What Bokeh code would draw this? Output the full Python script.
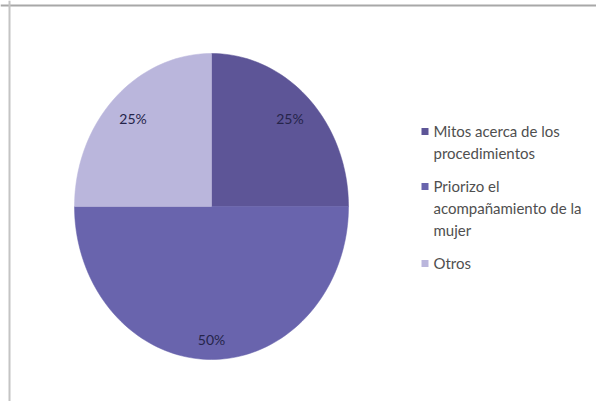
import math
from bokeh.plotting import figure
from bokeh.models import Range1d, Span
from bokeh.core.properties import value
from bokeh.embed import file_html
from bokeh.resources import INLINE

# ---- data ----
categories = ["Mitos acerca de los procedimientos",
              "Priorizo el acompañamiento de la mujer",
              "Otros"]
values = [25, 50, 25]
pct_labels = ["25%", "50%", "25%"]
legend_lines = [["Mitos acerca de los", "procedimientos"],
                ["Priorizo el", "acompañamiento de la", "mujer"],
                ["Otros"]]

# ---- styles / layout ----
colors = ["#5d5597", "#6964ad", "#bab6dc"]
label_radius = [0.81, 0.87, 0.81]
W, H = 596, 401
OX, OY = 0, 0          # page offset of the figure
cx, cy = 211, 206      # pie centre (page coordinates)
rx, ry = 137, 153      # pie radii (scan is slightly stretched)
leg_x, leg_text_x = 421, 433
leg_y0, line_h, entry_gap = 130, 22, 11

p = figure(width=W, height=H, output_backend="svg", toolbar_location=None,
           x_range=Range1d(OX, OX + W), y_range=Range1d(OY + H, OY),
           min_border=0, background_fill_color="#ffffff",
           border_fill_color="#ffffff")
p.axis.visible = False
p.grid.visible = False
p.outline_line_color = None

total = float(sum(values))
start = 0.0
xs_all, ys_all, lx, ly = [], [], [], []
for i, v in enumerate(values):
    frac = v / total
    a0, a1 = start * 2 * math.pi, (start + frac) * 2 * math.pi
    n = max(int(frac * 200), 8)
    xs, ys = [cx], [cy]
    for k in range(n + 1):
        t = a0 + (a1 - a0) * k / n
        xs.append(cx + rx * math.sin(t))
        ys.append(cy - ry * math.cos(t))
    xs_all.append(xs)
    ys_all.append(ys)
    tm = (a0 + a1) / 2
    lx.append(cx + label_radius[i] * rx * math.sin(tm))
    ly.append(cy - label_radius[i] * ry * math.cos(tm))
    start += frac

p.patches(xs_all, ys_all, fill_color=colors, line_color=colors, line_width=0.5)
p.text(lx, ly, text=pct_labels, text_font=value("Lato"), text_font_size="14px",
       text_color="#25244a", text_align="center", text_baseline="middle")

# legend
y = leg_y0
sq_x, sq_y, tx, ty, tt = [], [], [], [], []
for i, lines in enumerate(legend_lines):
    sq_x.append(leg_x + 3.5)
    sq_y.append(y + 1)
    for j, line in enumerate(lines):
        tx.append(leg_text_x)
        ty.append(y + j * line_h)
        tt.append(line)
    y += len(lines) * line_h + entry_gap
p.rect(sq_x, sq_y, width=7, height=7, fill_color=colors, line_color=None)
p.text(tx, ty, text=tt, text_font=value("Lato"), text_font_size="15px",
       text_color="#4f4f4f", text_align="left", text_baseline="middle")

# frame lines of the scanned chart box
p.add_layout(Span(location=5, dimension="width", line_color="#a8a8a8", line_width=2))
p.add_layout(Span(location=9, dimension="height", line_color="#c4c4c4", line_width=2))

open("out.html", "w").write(file_html(p, INLINE))
